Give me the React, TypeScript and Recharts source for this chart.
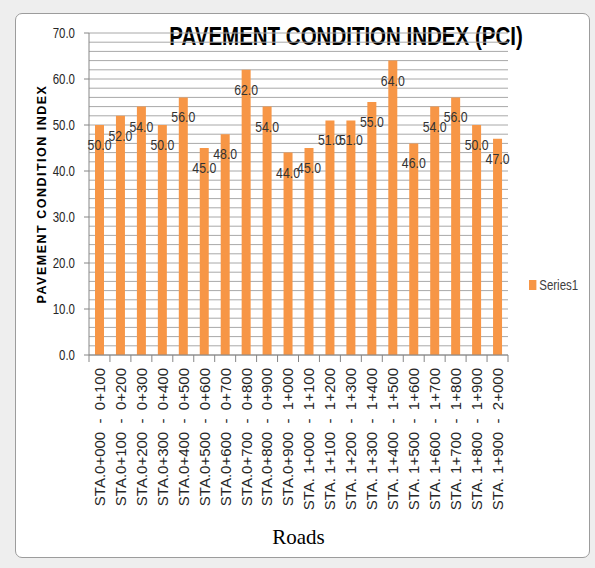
import React from "react";
import { Bar, BarChart, CartesianGrid, LabelList, XAxis, YAxis } from "recharts";

const categories = [
  "STA.0+000  -  0+100",
  "STA.0+100  -  0+200",
  "STA.0+200  -  0+300",
  "STA.0+300  -  0+400",
  "STA.0+400  -  0+500",
  "STA.0+500  -  0+600",
  "STA.0+600  -  0+700",
  "STA.0+700  -  0+800",
  "STA.0+800  -  0+900",
  "STA.0+900  -  1+000",
  "STA. 1+000  -  1+100",
  "STA. 1+100  -  1+200",
  "STA. 1+200  -  1+300",
  "STA. 1+300  -  1+400",
  "STA. 1+400  -  1+500",
  "STA. 1+500  -  1+600",
  "STA. 1+600  -  1+700",
  "STA. 1+700  -  1+800",
  "STA. 1+800  -  1+900",
  "STA. 1+900  -  2+000",
];

const pciValues = [50, 52, 54, 50, 56, 45, 48, 62, 54, 44, 45, 51, 51, 55, 64, 46, 54, 56, 50, 47];

// every 2 units a gridline; only every 10 gets a label and tick mark
const yTicks = [
  0, 2, 4, 6, 8, 10, 12, 14, 16, 18, 20, 22, 24, 26, 28, 30, 32, 34, 36,
  38, 40, 42, 44, 46, 48, 50, 52, 54, 56, 58, 60, 62, 64, 66, 68, 70,
];

const data = categories.map((name, i) => ({ name, pci: pciValues[i] }));

const ORANGE = "#F79646";
const AXIS = "#868686";
const SANS = "'Liberation Sans', Arial, sans-serif";
const SQUEEZE = 0.82;

const RoadTick = (props: any) => {
  const { x, y, payload, index, width, visibleTicksCount } = props;
  const half = width / visibleTicksCount / 2;
  return (
    <g>
      <line x1={x - half} x2={x - half} y1={y} y2={y + 7} stroke={AXIS} />
      {index === visibleTicksCount - 1 && (
        <line x1={x + half} x2={x + half} y1={y} y2={y + 7} stroke={AXIS} />
      )}
      <text
        x={x}
        y={y + 13}
        dy="0.36em"
        transform={`rotate(-90, ${x}, ${y + 13})`}
        textAnchor="end"
        fontSize={15}
        fontFamily={SANS}
        fill="#262626"
        style={{ whiteSpace: "pre" }}
      >
        {payload.value}
      </text>
    </g>
  );
};

const PciTick = (props: any) => {
  const { x, y, payload } = props;
  const v = Number(payload.value);
  if (v % 10 !== 0) return <g />;
  return (
    <g>
      <line x1={x - 5} x2={x} y1={y} y2={y} stroke={AXIS} />
      <text
        transform={`translate(${x - 14}, ${y}) scale(${SQUEEZE}, 1)`}
        dy="0.36em"
        textAnchor="end"
        fontSize={14}
        fontFamily={SANS}
        fill="#262626"
      >
        {v.toFixed(1)}
      </text>
    </g>
  );
};

const ValueLabel = (props: any) => {
  const { x, y, width, value } = props;
  return (
    <text
      transform={`translate(${x + width / 2}, ${y + 25}) scale(${SQUEEZE}, 1)`}
      textAnchor="middle"
      fontSize={15}
      fontFamily={SANS}
      fill="#333"
    >
      {Number(value).toFixed(1)}
    </text>
  );
};

export default function App() {
  return (
    <div
      style={{
        position: "absolute",
        left: 0,
        top: 0,
        width: 595,
        height: 568,
        background: "#eeeeee",
        overflow: "hidden",
      }}
    >
      <div
        style={{
          position: "absolute",
          left: 15,
          top: 13,
          width: 573,
          height: 543,
          background: "#fff",
          border: "1px solid #9c9c9c",
          borderRadius: 7,
        }}
      />
      <div
        style={{
          position: "absolute",
          left: 0,
          top: 16,
          width: 692,
          textAlign: "center",
          fontFamily: SANS,
          fontWeight: "bold",
          fontSize: 25,
          color: "#000",
          lineHeight: "40px",
          transform: `scaleX(${SQUEEZE})`,
          transformOrigin: "346px 0",
          whiteSpace: "nowrap",
        }}
      >
        PAVEMENT CONDITION INDEX (PCI)
      </div>
      <div
        style={{
          position: "absolute",
          left: 529,
          top: 277,
          display: "flex",
          alignItems: "center",
          fontFamily: SANS,
          fontSize: 14,
          color: "#404040",
          transform: `scaleX(${SQUEEZE})`,
          transformOrigin: "0 0",
          whiteSpace: "nowrap",
        }}
      >
        <span
          style={{
            width: 8.5,
            height: 10,
            background: ORANGE,
            marginRight: 4,
            display: "inline-block",
          }}
        />
        Series1
      </div>
      <div style={{ position: "absolute", left: 0, top: 0 }}>
        <BarChart
          width={595}
          height={568}
          data={data}
          margin={{ top: 33, right: 87, bottom: 0, left: 0 }}
        >
          <CartesianGrid vertical={false} stroke="#a8a8a8" />
          <XAxis
            dataKey="name"
            interval={0}
            height={213}
            tickSize={0}
            tickMargin={0}
            axisLine={{ stroke: AXIS }}
            tick={<RoadTick />}
            label={{
              value: "Roads",
              position: "insideBottom",
              offset: 24,
              fontSize: 21,
              fontFamily: "'Liberation Serif', 'Times New Roman', serif",
              fill: "#000",
            }}
          />
          <YAxis
            width={89}
            domain={[0, 70]}
            ticks={yTicks}
            interval={0}
            tickSize={0}
            tickMargin={0}
            tickLine={false}
            axisLine={{ stroke: AXIS }}
            tick={<PciTick />}
            label={(p: any) => {
              const vb = p.viewBox;
              const cx = vb.x + 41;
              const cy = vb.y + vb.height / 2;
              return (
                <text
                  x={cx}
                  y={cy}
                  dy="0.36em"
                  transform={`rotate(-90, ${cx}, ${cy})`}
                  textAnchor="middle"
                  fontSize={12.5}
                  fontWeight="bold"
                  letterSpacing={1.5}
                  fontFamily={SANS}
                  fill="#000"
                >
                  PAVEMENT CONDITION INDEX
                </text>
              );
            }}
          />
          <Bar dataKey="pci" fill={ORANGE} barSize={9} isAnimationActive={false}>
            <LabelList dataKey="pci" content={<ValueLabel />} />
          </Bar>
        </BarChart>
      </div>
    </div>
  );
}
